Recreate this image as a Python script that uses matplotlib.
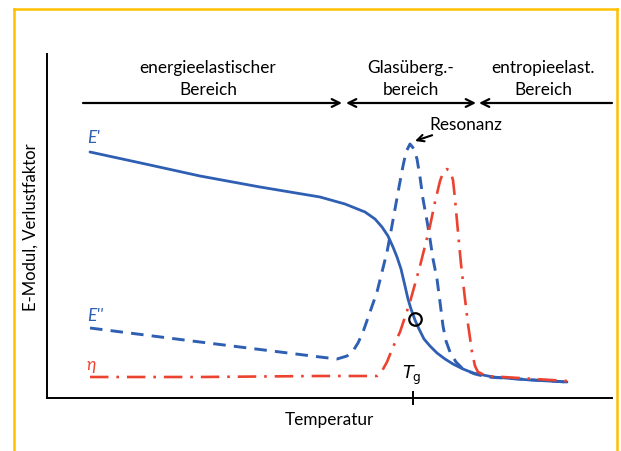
import matplotlib
matplotlib.use("Agg")
import matplotlib.pyplot as plt
from matplotlib.patches import FancyArrowPatch

plt.rcParams['font.family'] = ['Lato', 'DejaVu Sans']

W, H = 621, 452
# axis region in pixels
X0, X1 = 47, 612
Y0, Y1 = 399, 55  # bottom, top (pixel rows)

# data (x: temperature units, y: modulus units; origin at axes corner)
e1_x = [43, 103, 153, 213, 273, 298, 318, 328, 335, 341, 346, 350, 354, 358, 361, 364, 368, 372, 377, 383, 390, 398, 406, 416, 426, 446, 483, 520]
e1_y = [246, 233, 222, 211, 201, 194, 186, 179, 171, 162, 151, 141, 129, 112, 99, 89, 78, 69, 59, 52, 45, 39, 34, 29, 25, 21, 18, 16]

e2_x = [43, 153, 273, 290, 300, 306, 311, 316, 323, 330, 335, 340, 344, 348, 352, 356, 359, 363, 367, 370, 373, 376, 380, 383, 386, 390, 393, 396, 399, 403, 409, 416, 428, 440, 520]
e2_y = [70, 56, 41, 39, 42, 47, 55, 66, 86, 106, 126, 146, 167, 189, 211, 232, 246, 254, 249, 239, 221, 199, 177, 159, 139, 119, 96, 72, 57, 46, 36, 29, 24, 21, 16]

eta_x = [43, 153, 273, 330, 335, 340, 346, 353, 358, 363, 368, 373, 378, 383, 388, 393, 396, 400, 403, 406, 408, 411, 414, 418, 421, 425, 428, 431, 440, 520]
eta_y = [21, 21, 22, 22, 27, 36, 51, 66, 81, 96, 114, 132, 152, 172, 196, 217, 225, 229, 227, 218, 199, 166, 134, 99, 74, 46, 32, 26, 22, 17]

tg_x = 366
circle_xy = (368, 79)

fig = plt.figure(figsize=(W/100, H/100), dpi=100)
ax = fig.add_axes([X0/W, (H-Y0)/H, (X1-X0)/W, (Y0-Y1)/H])
ax.set_xlim(0, X1-X0)
ax.set_ylim(0, Y0-Y1)

blue = '#2F5FB3'
red = '#EC4230'

ax.plot(e1_x, e1_y, color=blue, lw=2.0, solid_capstyle='round', solid_joinstyle='round')
ax.plot(e2_x, e2_y, color=blue, lw=2.1, dashes=(4.3, 2.8))
ax.plot(eta_x, eta_y, color=red, lw=1.9, dashes=(7, 3, 1, 3))
ax.plot([circle_xy[0]], [circle_xy[1]], 'o', ms=9, mfc='none', mec='black', mew=1.6)

for s in ['top', 'right']:
    ax.spines[s].set_visible(False)
for s in ['left', 'bottom']:
    ax.spines[s].set_linewidth(1.4)
ax.set_xticks([tg_x])
ax.set_xticklabels([''])
ax.tick_params(axis='x', direction='inout', length=10, width=1.4)
ax.set_yticks([])

ax.text(tg_x - 1, 12, r'$\mathit{T}_{\mathrm{g}}$', ha='center', va='bottom', fontsize=12.5)
ax.set_xlabel('Temperatur', fontsize=12.4, labelpad=1)
ax.set_ylabel('E-Modul, Verlustfaktor', fontsize=12, labelpad=6)

# curve labels
ax.text(40, 253, "E'", color=blue, fontsize=12.5, style='italic', ha='left', va='bottom')
ax.text(40, 75, "E''", color=blue, fontsize=12.5, style='italic', ha='left', va='bottom')
ax.text(40, 26, "η", color=red, fontsize=12.5, style='italic', ha='left', va='bottom')

# region arrows
ay = 295
def arr(x0, x1, style):
    ax.add_patch(FancyArrowPatch((x0, ay), (x1, ay), arrowstyle=style, mutation_scale=14,
                                 color='black', lw=1.6, clip_on=False, shrinkA=0, shrinkB=0))
arr(36, 295, '->')
arr(299, 429, '<->')
arr(565, 432, '->')

kw = dict(ha='center', va='center', fontsize=12.4, linespacing=1.5)
ax.text(161, 320, 'energieelastischer\nBereich', **kw)
ax.text(364, 320, 'Glasüberg.-\nbereich', **kw)
ax.text(496, 320, 'entropieelast.\nBereich', **kw)

ax.annotate('Resonanz', xy=(368, 257), xytext=(382, 274), fontsize=12.4, ha='left', va='center',
            arrowprops=dict(arrowstyle='->', color='black', lw=1.5, shrinkA=1, shrinkB=0, mutation_scale=12))

# yellow frame
fc = '#FFC000'
fig.add_artist(plt.Line2D([14/W, 14/W], [0, 1-10/H], color=fc, lw=1.8, transform=fig.transFigure))
fig.add_artist(plt.Line2D([14/W, 617/W], [1-10/H, 1-10/H], color=fc, lw=1.8, transform=fig.transFigure))
fig.add_artist(plt.Line2D([617/W, 617/W], [0, 1-10/H], color=fc, lw=1.8, transform=fig.transFigure))

fig.savefig('out.png', dpi=100)
